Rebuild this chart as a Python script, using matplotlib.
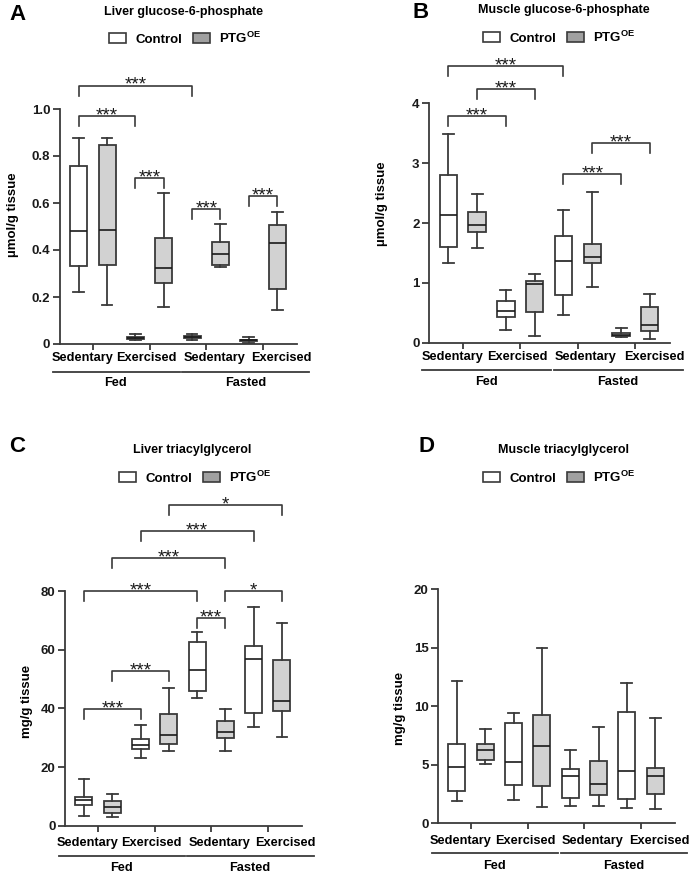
import matplotlib
matplotlib.use("Agg")
import matplotlib.pyplot as plt
from matplotlib.patches import Patch
from matplotlib.transforms import blended_transform_factory

plt.rcParams['font.family'] = 'Liberation Sans'
plt.rcParams['font.weight'] = 'bold'
plt.rcParams['mathtext.fontset'] = 'custom'
plt.rcParams['mathtext.bf'] = 'Liberation Sans:bold'
plt.rcParams['mathtext.rm'] = 'Liberation Sans:bold'

W, H = 690, 877
conditions = ["Sedentary", "Exercised", "Sedentary", "Exercised"]
feeding = ["Fed", "Fasted"]
genotypes = ["Control", r"$\mathbf{PTG^{OE}}$"]

# (low whisker, q1, median, q3, high whisker) per group: Fed-Sed, Fed-Ex, Fasted-Sed, Fasted-Ex
liver_g6p_ctrl = [(0.223, 0.330, 0.482, 0.759, 0.877), (0.018, 0.022, 0.025, 0.030, 0.041),
                  (0.017, 0.026, 0.030, 0.035, 0.044), (0.006, 0.011, 0.015, 0.019, 0.028)]
liver_g6p_ptg = [(0.166, 0.335, 0.485, 0.845, 0.875), (0.159, 0.258, 0.323, 0.452, 0.641),
                 (0.326, 0.338, 0.381, 0.432, 0.512), (0.145, 0.235, 0.428, 0.508, 0.563)]
muscle_g6p_ctrl = [(1.34, 1.60, 2.14, 2.80, 3.49), (0.22, 0.43, 0.525, 0.69, 0.88),
                   (0.47, 0.80, 1.37, 1.79, 2.21), (0.10, 0.11, 0.13, 0.17, 0.24)]
muscle_g6p_ptg = [(1.58, 1.85, 1.96, 2.18, 2.49), (0.12, 0.52, 0.98, 1.03, 1.15),
                  (0.93, 1.33, 1.43, 1.645, 2.52), (0.07, 0.19, 0.29, 0.60, 0.82)]
liver_tag_ctrl = [(3.4, 6.9, 8.9, 9.8, 16.0), (23.2, 26.0, 27.5, 29.6, 34.3),
                  (43.6, 45.8, 53.0, 62.6, 66.1), (33.7, 38.3, 56.9, 61.2, 74.6)]
liver_tag_ptg = [(3.0, 4.2, 6.5, 8.5, 10.9), (25.3, 27.8, 31.0, 38.1, 46.9),
                 (25.3, 29.9, 31.8, 35.6, 39.9), (30.2, 39.0, 42.4, 56.4, 69.2)]
muscle_tag_ctrl = [(1.93, 2.76, 4.79, 6.78, 12.16), (1.96, 3.27, 5.27, 8.60, 9.45),
                   (1.45, 2.14, 4.02, 4.67, 6.26), (1.28, 2.05, 4.50, 9.51, 11.97)]
muscle_tag_ptg = [(5.04, 5.44, 6.24, 6.80, 8.03), (1.42, 3.19, 6.61, 9.23, 14.98),
                  (1.50, 2.39, 3.36, 5.32, 8.20), (1.20, 2.53, 4.02, 4.70, 8.97)]

# significance brackets: (box a, box b, height, label); box = 2*group + genotype
brackets_a = [(0, 4, 1.10, '***'), (0, 2, 0.971, '***'), (2, 3, 0.708, '***'),
              (4, 5, 0.576, '***'), (6, 7, 0.631, '***')]
brackets_b = [(0, 4, 4.63, '***'), (1, 3, 4.24, '***'), (0, 2, 3.78, '***'),
              (4, 6, 2.82, '***'), (5, 7, 3.33, '***')]
brackets_c = [(3, 7, 109.3, '*'), (2, 6, 100.4, '***'), (1, 5, 91.4, '***'),
              (0, 4, 80.0, '***'), (5, 7, 80.0, '*'), (4, 5, 70.9, '***'),
              (1, 3, 52.6, '***'), (0, 2, 39.8, '***')]
brackets_d = []

EDGE = '#3a3a3a'
PTG_FILL = '#d2d2d2'


def box_x(i):
    return i // 2 + 1 + (i % 2 - 0.5) * 0.5


def panel(box_px, letter, letter_px, title, title_px, legend_px, ylabel, ylab_pos,
          ymax, ystep, fmt, ctrl, ptg, brackets, offs):
    l, t, r, b = box_px
    ax = fig.add_axes([l / W, 1 - b / H, (r - l) / W, (b - t) / H])
    hpx = b - t
    for k, (data, fill) in enumerate([(ctrl, 'white'), (ptg, PTG_FILL)]):
        stats = [dict(whislo=d[0], q1=d[1], med=d[2], q3=d[3], whishi=d[4]) for d in data]
        pos = [box_x(2 * g + k) for g in range(4)]
        ax.bxp(stats, positions=pos, widths=0.30, capwidths=0.19, patch_artist=True,
               showfliers=False,
               boxprops=dict(facecolor=fill, edgecolor=EDGE, linewidth=1.3),
               whiskerprops=dict(color=EDGE, linewidth=1.3),
               capprops=dict(color=EDGE, linewidth=1.3),
               medianprops=dict(color='#1a1a1a', linewidth=1.2))
    ax.set_xlim(0.42, 4.6)
    ax.set_ylim(0, ymax)
    ticks = [i * ystep for i in range(int(round(ymax / ystep)) + 1)]
    ax.set_yticks(ticks)
    ax.set_yticklabels([fmt(v) for v in ticks], fontsize=9.5, fontweight='bold')
    ax.set_xticks([1, 2, 3, 4])
    ax.set_xticklabels([])
    for s in ['top', 'right']:
        ax.spines[s].set_visible(False)
    for s in ['left', 'bottom']:
        ax.spines[s].set_color(EDGE)
        ax.spines[s].set_linewidth(1.3)
    ax.spines['left'].set_bounds(0, ymax)
    ax.tick_params(axis='both', colors=EDGE, width=1.3, labelcolor='#1a1a1a')
    ax.tick_params(axis='y', length=5, pad=2)
    ax.tick_params(axis='x', length=4.5)
    ax.set_ylabel(ylabel, fontsize=9.5, fontweight='bold', va='center')
    ax.yaxis.set_label_coords(*ylab_pos)

    # x category labels
    tr = blended_transform_factory(ax.transData, ax.transAxes)
    o1, o2, o3 = [o / hpx for o in offs]
    for x, lab in zip([0.82, 1.95, 3.14, 4.32], conditions):
        ax.text(x, -o1, lab, transform=tr, ha='center', va='center', fontsize=9.2,
                fontweight='bold')
    for (x0, x1), lab in zip([(0.30, 2.53), (2.58, 4.82)], feeding):
        ax.plot([x0, x1], [-o2, -o2], transform=tr, color=EDGE, lw=1.3, clip_on=False)
        ax.text((x0 + x1) / 2 - 0.01, -o3, lab, transform=tr, ha='center', va='center',
                fontsize=9.2, fontweight='bold')

    leg = 10 / hpx * ymax
    for a, c, y, lab in brackets:
        xa, xc = box_x(a), box_x(c)
        ax.plot([xa, xa, xc, xc], [y - leg, y, y, y - leg], color=EDGE, lw=1.2,
                clip_on=False)
        ax.annotate(lab, ((xa + xc) / 2, y), xytext=(0, -3.2), textcoords='offset points',
                    ha='center', va='baseline', fontsize=13.5, fontweight='normal',
                    color='#1a1a1a', annotation_clip=False)

    fig.text(letter_px[0] / W, 1 - letter_px[1] / H, letter, fontsize=16,
             fontweight='bold', ha='left', va='center')
    fig.text(title_px[0] / W, 1 - title_px[1] / H, title, fontsize=9,
             fontweight='bold', ha='center', va='center')
    handles = [Patch(facecolor='white', edgecolor=EDGE, linewidth=1.2),
               Patch(facecolor='#a0a0a0', edgecolor=EDGE, linewidth=1.2)]
    ax.legend(handles, genotypes, loc='center', ncol=2, frameon=False,
              bbox_to_anchor=(legend_px[0] / W, 1 - legend_px[1] / H),
              bbox_transform=fig.transFigure, handlelength=1.3, handleheight=0.72,
              handletextpad=0.7, columnspacing=0.8, prop=dict(size=9.5, weight='bold'))
    return ax


fig = plt.figure(figsize=(W / 100, H / 100), dpi=100)

f1 = lambda v: '0' if v == 0 else f'{v:.1f}'
fi = lambda v: f'{v:g}'

panel((60, 109, 297, 344), 'A', (9, 15), 'Liver glucose-6-phosphate', (183, 12),
      (185, 38), 'µmol/g tissue', (-0.198, 0.55), 1.0, 0.2, f1,
      liver_g6p_ctrl, liver_g6p_ptg, brackets_a, (14, 27.7, 39))
panel((429.3, 103.3, 670, 342.7), 'B', (413, 13), 'Muscle glucose-6-phosphate', (564, 10),
      (559, 37), 'µmol/g tissue', (-0.198, 0.58), 4, 1, fi,
      muscle_g6p_ctrl, muscle_g6p_ptg, brackets_b, (14, 27.3, 39))
panel((65.3, 591, 301.7, 825.7), 'C', (9, 447), 'Liver triacylglycerol', (192, 450),
      (195, 477), 'mg/g tissue', (-0.162, 0.53), 80, 20, fi,
      liver_tag_ctrl, liver_tag_ptg, brackets_c, (17, 30.3, 42.6))
panel((438.3, 589.3, 675, 823.3), 'D', (418, 447), 'Muscle triacylglycerol', (563, 450),
      (559, 477), 'mg/g tissue', (-0.162, 0.49), 20, 5, fi,
      muscle_tag_ctrl, muscle_tag_ptg, brackets_d, (17.7, 30, 42.7))

fig.savefig('out.png', dpi=100)
